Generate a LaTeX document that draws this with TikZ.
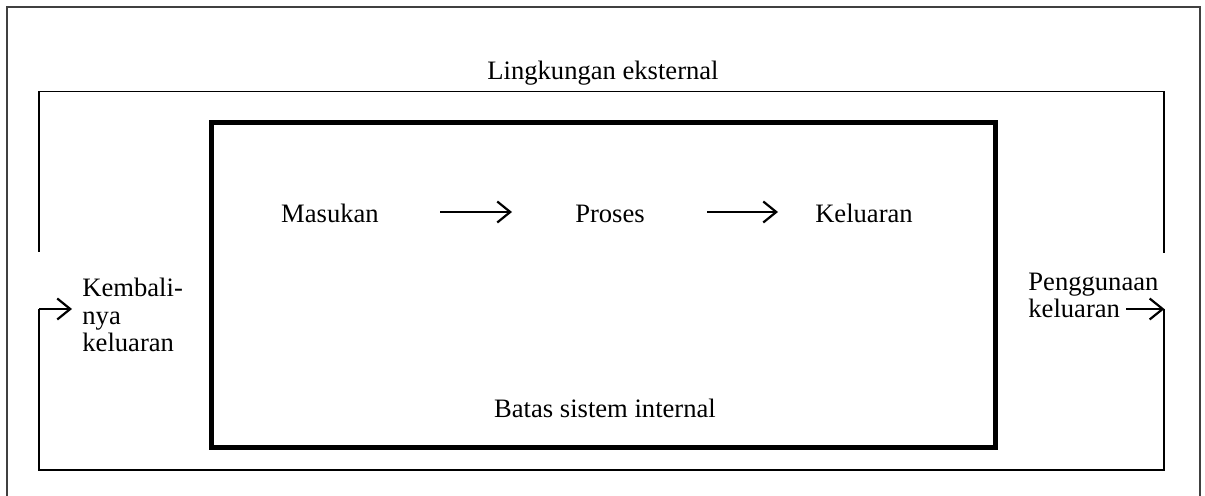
\documentclass[tikz,border=0pt]{standalone}
\usepackage{fontspec}
\setmainfont{Liberation Serif}
\usetikzlibrary{arrows.meta}
\tikzset{
  lbl/.style={inner sep=0pt, font=\fontsize{13.3}{13.75}\selectfont},
  loopline/.style={line width=0.8pt, line cap=butt},
  flowarrow/.style={line width=1.1pt, -{Straight Barb[length=6.5pt, width=10.5pt, line width=1.1pt]}},
  sysbox/.style={line width=2.5pt, line join=miter},
  frameline/.style={line width=0.6pt, draw=black!75}
}
\begin{document}
\begin{tikzpicture}[x=0.5pt, y=-0.5pt]
  \useasboundingbox (0,0) rectangle (1205,496);
  % page frame, open at the bottom
  \draw[frameline] (7,496) -- (7,7) -- (1200,7) -- (1200,496);

  % system boundary
  \draw[sysbox] (211,123) rectangle (995.5,447.5);

  % labels (multi-line labels are placed by their last baseline)
  \node[lbl, anchor=base] (ling) at (603,80) {Lingkungan eksternal};
  \node[lbl, anchor=base] (masukan) at (330,223) {Masukan};
  \node[lbl, anchor=base] (proses) at (610,223) {Proses};
  \node[lbl, anchor=base] (keluaran) at (864,223) {Keluaran};
  \node[lbl, anchor=base] (batas) at (605,418) {Batas sistem internal};
  \node[lbl, anchor=base west, align=left] (kembali) at (82,352) {Kembali-\\nya\\keluaran};
  \node[lbl, anchor=base west, align=left] (guna) at (1028,318) {Penggunaan\\keluaran};

  % arrow ends
  \coordinate (a1s) at (440,212);
  \coordinate (a1e) at (512,212);
  \coordinate (a2s) at (707,212);
  \coordinate (a2e) at (778,212);
  \coordinate (tl) at (39,91.5);
  \coordinate (tr) at (1164,91.5);
  \coordinate (bl) at (39,470);
  \coordinate (br) at (1164,470);
  \coordinate (lgap) at (39,252);
  \coordinate (rgap) at (1164,253);
  \coordinate (lin) at (39,309);
  \coordinate (lintip) at (72,309);
  \coordinate (rout) at (1126,309);
  \coordinate (routtip) at (1164.4,309);

  % flow inside the system
  \draw[flowarrow] (a1s) -- (a1e);
  \draw[flowarrow] (a2s) -- (a2e);

  % environment loop
  \draw[loopline] (lgap) -- (tl) -- (tr) -- (rgap);
  \draw[loopline] (1164,309) -- (br) -- (bl) -- (lin);
  \draw[flowarrow] (lin) -- (lintip);
  \draw[flowarrow] (rout) -- (routtip);
\end{tikzpicture}
\end{document}
